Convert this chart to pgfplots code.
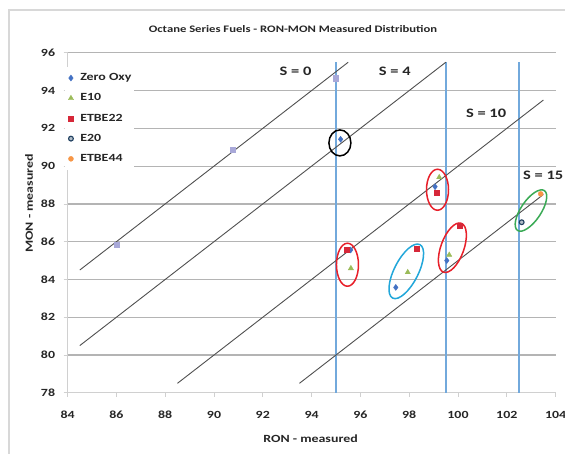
\documentclass[border=0pt]{standalone}
\usepackage{pgfplots}
\pgfplotsset{compat=1.18}
\usepackage{fontspec}
\setmainfont[FakeStretch=1.27]{Carlito}
\usetikzlibrary{shapes.geometric}
\definecolor{gridc}{HTML}{B4B4B4}
\definecolor{axc}{HTML}{D0D0D0}
\definecolor{vblue}{HTML}{72A9DC}
\definecolor{diagc}{HTML}{505050}
\definecolor{zoc}{HTML}{4472C4}
\definecolor{etenc}{HTML}{9BBB59}
\definecolor{etbec}{HTML}{D62839}
\definecolor{etwc}{HTML}{1F3F5F}
\definecolor{etbfc}{HTML}{F79646}
\definecolor{lav}{HTML}{A8A8D8}
\definecolor{ellred}{HTML}{E8202A}
\definecolor{ellcyan}{HTML}{22A7DA}
\definecolor{ellgreen}{HTML}{3AAA55}
\definecolor{framec}{HTML}{D8D8D8}
\definecolor{txt}{HTML}{262626}
\begin{document}
\begin{tikzpicture}
\fill[white] (0,0) rectangle (565bp,454bp);
\begin{scope}
\clip (0,0) rectangle (565bp,454bp);
\draw[framec, line width=1.2bp] (9bp,-20bp) -- (9bp,444bp) -- (600bp,444bp);
\begin{axis}[
  scale only axis, width=488bp, height=340bp,
  at={(67.6bp,61.2bp)}, anchor=south west,
  xmin=84, xmax=104, ymin=78, ymax=96,
  xtick={84,86,...,104}, ytick={78,80,...,96},
  axis x line*=bottom, axis y line*=left,
  axis line style={axc, line width=1bp},
  tick style={axc, line width=0.8bp}, tick align=outside, major tick length=4bp,
  ymajorgrids, grid style={gridc, line width=1.2bp},
  /pgf/number format/assume math mode=true,
  ticklabel style={font=\bfseries\fontsize{11}{13}\selectfont, text=txt},
  xticklabel style={yshift=-11bp},
  yticklabel style={xshift=-5bp},
  xlabel={RON - measured}, ylabel={MON - measured},
  label style={font=\bfseries\fontsize{11}{13}\selectfont, text=txt},
  xlabel style={at={(axis description cs:0.498,-0.135)}, anchor=center},
  ylabel style={at={(axis description cs:-0.079,0.557)}, anchor=center},
  title={Octane Series Fuels - RON-MON Measured Distribution},
  every axis title shift=0pt,
  title style={at={(axis description cs:0.462,1.0685)}, anchor=center, font=\bfseries\fontsize{10}{12}\selectfont, text=txt},
  clip=false,
  legend cell align=left,
  legend image code/.code={\draw[#1] plot coordinates {(0bp,0bp)};},
  legend style={at={(-0.005,0.958)}, anchor=north west, draw=none, fill=white,
    font=\bfseries\fontsize{11}{13}\selectfont, text=txt,
    inner xsep=3bp, inner ysep=5.5bp,
    nodes={inner sep=0pt, text height=8bp, text depth=2.5bp},
    row sep=9.7bp,
    /tikz/every odd column/.append style={column sep=6.7bp}},
]
% vertical limits
\addplot[vblue, line width=1.4bp, forget plot] coordinates {(95,78)(95,95.5)};
\addplot[vblue, line width=1.4bp, forget plot] coordinates {(99.5,78)(99.5,95.5)};
\addplot[vblue, line width=1.4bp, forget plot] coordinates {(102.5,78)(102.5,95.5)};
% S lines
\addplot[diagc, line width=0.9bp, forget plot] coordinates {(84.5,84.5)(95.5,95.5)};
\addplot[diagc, line width=0.9bp, forget plot] coordinates {(84.5,80.5)(99.5,95.5)};
\addplot[diagc, line width=0.9bp, forget plot] coordinates {(88.5,78.5)(103.5,93.5)};
\addplot[diagc, line width=0.9bp, forget plot] coordinates {(93.5,78.5)(103.5,88.5)};
% reference points
\addplot[only marks, mark=square*, mark size=2.6bp, lav, forget plot] coordinates {(86,85.85)(90.75,90.85)(95.0,94.65)};
% series
\addplot[only marks, mark=diamond*, mark size=3bp, zoc] coordinates {(95.19,91.42)(99.06,88.91)(95.60,85.56)(97.45,83.58)(99.54,85.00)};
\addlegendentry{Zero Oxy}
\addplot[only marks, mark=triangle*, mark size=3bp, etenc] coordinates {(99.23,89.41)(95.61,84.59)(97.94,84.38)(99.64,85.30)};
\addlegendentry{E10}
\addplot[only marks, mark=square*, mark size=2.5bp, etbec] coordinates {(99.14,88.60)(100.05,86.85)(95.44,85.60)(98.31,85.65)};
\addlegendentry{ETBE22}
\addplot[only marks, mark=*, mark size=2.4bp, draw=etwc, fill=etwc!35, mark options={line width=1.1bp}] coordinates {(102.61,87.03)};
\addlegendentry{E20}
\addplot[only marks, mark=*, mark size=2.5bp, etbfc] coordinates {(103.39,88.53)};
\addlegendentry{ETBE44}
% labels
\node[font=\bfseries\fontsize{13}{15}\selectfont, text=txt] at (axis cs:93.34,95.01) {S = 0};
\node[font=\bfseries\fontsize{13}{15}\selectfont, text=txt] at (axis cs:97.41,95.01) {S = 4};
\node[font=\bfseries\fontsize{13}{15}\selectfont, text=txt] at (axis cs:101.15,92.8) {S = 10};
\node[font=\bfseries\fontsize{13}{15}\selectfont, text=txt, anchor=west, inner sep=0pt] at (axis cs:102.66,89.53) {S = 15};
% ellipses
\node[draw=black, line width=1.5bp, ellipse, minimum width=22bp, minimum height=26bp, inner sep=0pt] at (axis cs:95.16,91.23) {};
\node[draw=ellred, line width=1.5bp, ellipse, minimum width=22bp, minimum height=41bp, inner sep=0pt] at (axis cs:99.16,88.75) {};
\node[draw=ellred, line width=1.5bp, ellipse, minimum width=22bp, minimum height=43bp, inner sep=0pt] at (axis cs:95.47,84.78) {};
\node[draw=ellcyan, line width=1.5bp, ellipse, minimum width=60bp, minimum height=24bp, inner sep=0pt, rotate=63] at (axis cs:97.88,84.43) {};
\node[draw=ellred, line width=1.5bp, ellipse, minimum width=52bp, minimum height=23bp, inner sep=0pt, rotate=70] at (axis cs:99.77,85.68) {};
\node[draw=ellgreen, line width=1.5bp, ellipse, minimum width=48bp, minimum height=20bp, inner sep=0pt, rotate=56] at (axis cs:102.99,87.65) {};
\end{axis}
\end{scope}
\pgfresetboundingbox
\useasboundingbox (0,0) rectangle (565bp,454bp);
\end{tikzpicture}
\end{document}
